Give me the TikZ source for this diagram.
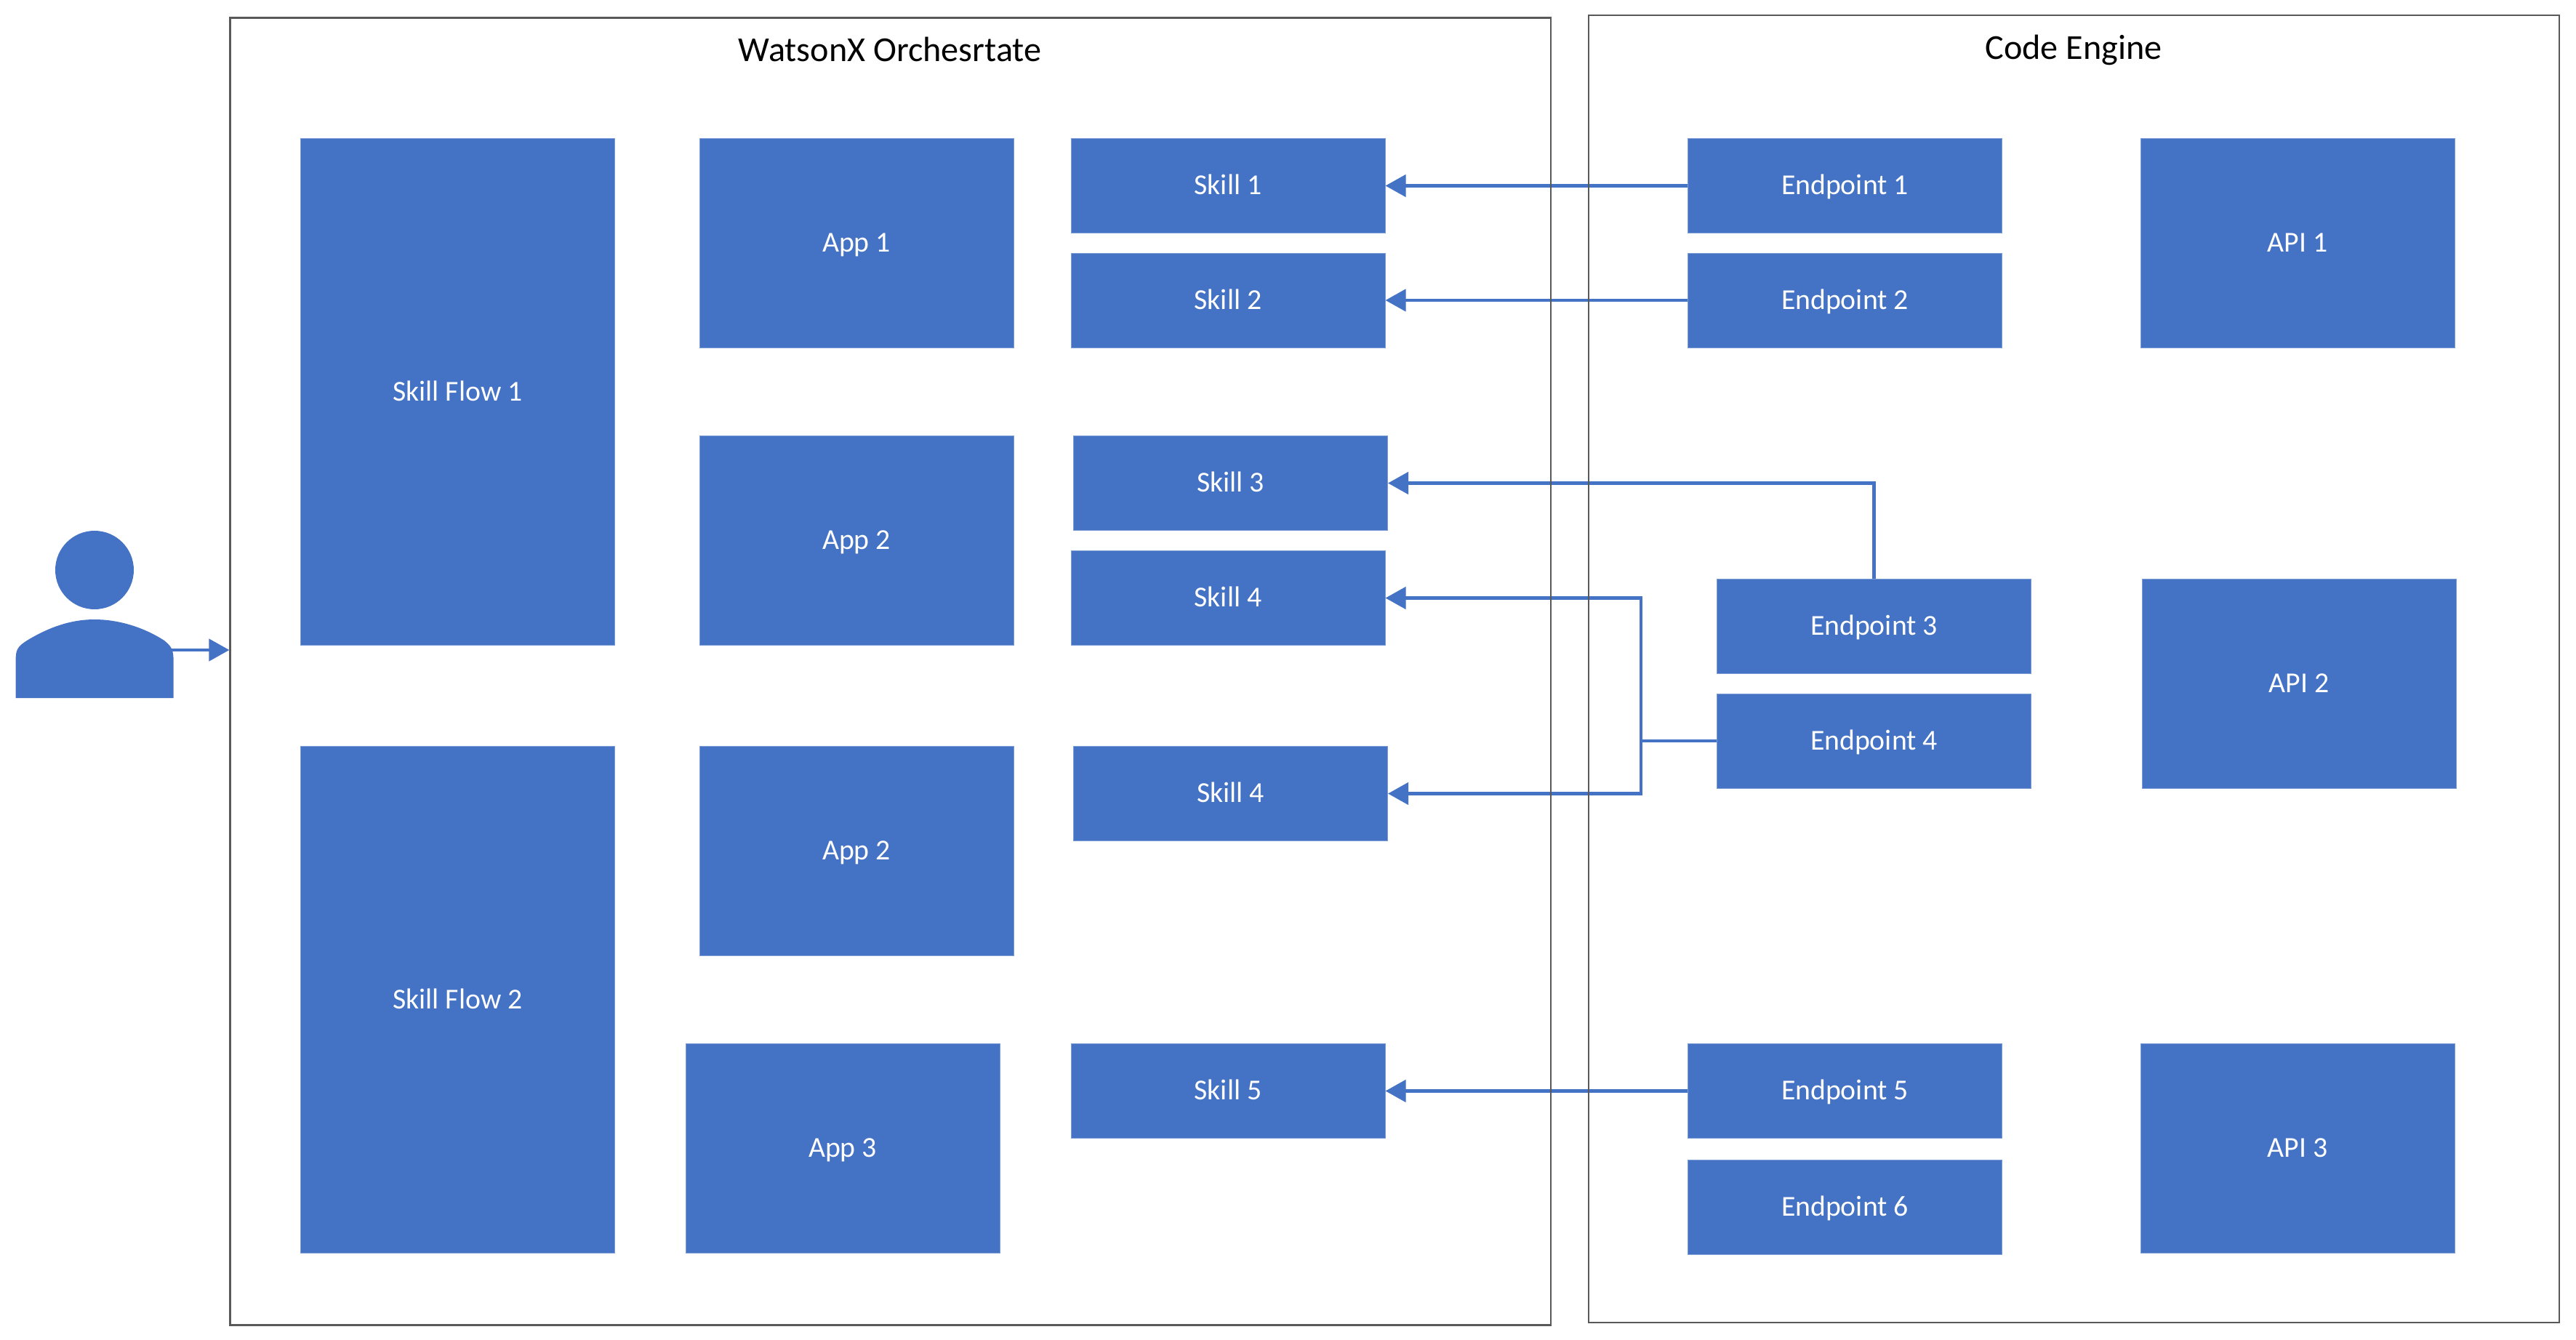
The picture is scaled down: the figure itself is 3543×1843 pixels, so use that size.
\documentclass[tikz,border=0pt]{standalone}
\usepackage{fontspec}
\setmainfont{Carlito}
\usepackage{xcolor}
\usepackage{tikz}
\usetikzlibrary{arrows.meta}
\definecolor{boxblue}{HTML}{4472C4}
\definecolor{edgegray}{HTML}{595959}
\tikzset{
  blockbox/.style={fill=boxblue, draw=boxblue!70!white, line width=.2pt, text=white, inner sep=0pt,
    minimum width=4.32cm, text height=7pt, text depth=0pt, font=\fontsize{11.3}{13}\selectfont},
  tallbox/.style={blockbox, minimum height=6.96cm},
  midbox/.style={blockbox, minimum height=2.88cm},
  smallbox/.style={blockbox, minimum height=1.30cm},
  holder/.style={draw=edgegray, line width=.6pt, inner sep=0pt},
  holdertitle/.style={inner sep=0pt, text=black, text height=9.5pt, text depth=0pt, font=\fontsize{13.7}{16}\selectfont},
  wire/.style={draw=boxblue, line width=1.3pt},
  wirearrow/.style={wire, -{Triangle[length=2.8mm,width=3mm]}}
}
\begin{document}
\begin{tikzpicture}[x=0.01cm, y=-0.01cm]
\useasboundingbox (0,0) rectangle (3543,1843);
\foreach \x/\y/\nm/\txt in {629.5/539/flowA/Skill Flow 1, 629.5/1375/flowB/Skill Flow 2}
  \node[tallbox] (\nm) at (\x,\y) {\txt};
\foreach \x/\y/\nm/\txt in {1178/334.5/appA/App 1, 1178/743.5/appB/App 2, 1178/1170.5/appC/App 2,
  1159/1579.5/appD/App 3, 3160/334.5/apiA/API 1, 3162/940/apiB/API 2, 3160/1579.5/apiC/API 3}
  \node[midbox] (\nm) at (\x,\y) {\txt};
\foreach \x/\y/\nm/\txt in {1689/255.5/skillA/Skill 1, 1689/413/skillB/Skill 2, 1692.5/664.5/skillC/Skill 3,
  1689/822.5/skillD/Skill 4, 1692.5/1091.5/skillE/Skill 4, 1689/1500.5/skillF/Skill 5,
  2537.5/255.5/endA/Endpoint 1, 2537.5/413/endB/Endpoint 2, 2577.5/861.5/endC/Endpoint 3,
  2577.5/1019/endD/Endpoint 4, 2537.5/1500.5/endE/Endpoint 5, 2537.5/1660.5/endF/Endpoint 6}
  \node[smallbox] (\nm) at (\x,\y) {\txt};
% links between endpoints and skills
\coordinate (joint) at (2257,1019);
\draw[wirearrow] (endA.west) -- (skillA.east);
\draw[wirearrow] (endB.west) -- (skillB.east);
\draw[wirearrow] (endC.north) |- (skillC.east);
\draw[wire] (endD.west) -- (joint);
\draw[wirearrow] (joint) |- (skillD.east);
\draw[wirearrow] (joint) |- (skillE.east);
\draw[wirearrow] (endE.west) -- (skillF.east);
% containers
\node[holder, minimum width=18.15cm, minimum height=17.97cm] (orch) at (1224.5,923.5) {};
\node[holder, minimum width=13.35cm, minimum height=17.97cm] (engine) at (2852.5,920) {};
\node[holdertitle] (orchtitle) at (1224,68) {WatsonX Orchesrtate};
\node[holdertitle] (enginetitle) at (2852,65) {Code Engine};
% user
\fill[boxblue] (130,784) circle (54);
\fill[boxblue] (21.7,960) -- (21.7,904) .. controls (22,891) and (28,887) .. (37,881)
  .. controls (70,861) and (100,852) .. (130,852) .. controls (160,852) and (195,861) .. (226,881)
  .. controls (233,887) and (238,891) .. (238.5,904) -- (238.5,960) -- cycle;
\coordinate (userside) at (235,894);
\draw[wirearrow] (userside) -- (orch.west |- userside);
\end{tikzpicture}
\end{document}
